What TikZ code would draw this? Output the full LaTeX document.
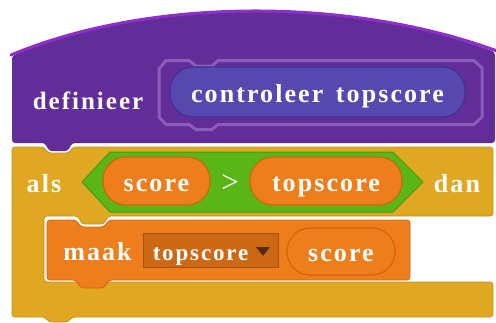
\documentclass[tikz,border=0pt]{standalone}
\usepackage{fontspec}
\newfontfamily\blockfont[LetterSpace=8]{Liberation Serif}
\definecolor{hatpurple}{HTML}{632D99}
\definecolor{hatrim}{HTML}{8D2FCC}
\definecolor{slotline}{HTML}{8B5DBA}
\definecolor{custblue}{HTML}{5748B0}
\definecolor{custedge}{HTML}{40338F}
\definecolor{ctrlyellow}{HTML}{E0A822}
\definecolor{ctrledge}{HTML}{C8901A}
\definecolor{opgreen}{HTML}{5AB517}
\definecolor{opedge}{HTML}{469A0E}
\definecolor{varorange}{HTML}{EE7D1C}
\definecolor{varedge}{HTML}{D0650E}
\definecolor{dropfill}{HTML}{CD6815}
\definecolor{droparrow}{HTML}{5A2A0A}

\begin{document}
\begin{tikzpicture}[x=1pt, y=-1pt,
  txt/.style={text=white, font=\blockfont\bfseries\fontsize{26}{30}\selectfont, inner sep=0pt},
  pill/.style={txt, rectangle, rounded corners=23pt, line width=1.2pt,
               text height=21pt, text depth=1pt},
  var/.style={pill, fill=varorange, draw=varedge},
  custom/.style={pill, fill=custblue, draw=custedge}
]
  \useasboundingbox (0,0) rectangle (496,322);

  % if-block
  \filldraw[fill=ctrlyellow, draw=ctrledge, line width=0.8pt, rounded corners=3pt]
    (12,147) -- (44,147) -- (48,153) -- (69,153) -- (73,147) -- (493,147)
    -- (493,216) -- (108,216) -- (104,224) -- (82,224) -- (78,216) -- (44,216)
    -- (44,282) -- (493,282) -- (493,317) -- (72,317) -- (68,322) -- (49,322)
    -- (45,317) -- (12,317) -- cycle;

  % define hat
  \fill[hatpurple, rounded corners=3pt] (12,56) .. controls (150,-2) and (350,-2) .. (495,52)
    -- (495,143) -- (72,143) -- (68,151) -- (49,151) -- (45,143) -- (12,143) -- cycle;
  \draw[hatrim, line width=3pt, line cap=round] (11,55) .. controls (150,-3) and (350,-3) .. (497,51);
  \draw[slotline, line width=3pt]
    (159,69) -- (166,60.5) -- (189,60.5) -- (196,66) -- (212,66) -- (218,60.5) -- (474,60.5)
    -- (482,68) -- (482,117) -- (474,124.5) -- (218,124.5) -- (212,129.5) -- (196,129.5)
    -- (189,124.5) -- (166,124.5) -- (159,117) -- cycle;
  \node[custom, minimum width=295pt, minimum height=50pt] (proc) at (317.5,92) {controleer\hspace{4pt} topscore};
  \node[txt, anchor=base, font=\blockfont\bfseries\fontsize{25}{30}\selectfont] (def) at (88,109) {definieer};

  % condition
  \filldraw[fill=opgreen, draw=opedge, line width=1pt]
    (82,182) -- (110,152) -- (393,152) -- (423,182) -- (393,212) -- (110,212) -- cycle;
  \node[txt, anchor=base] (als) at (44,192) {als};
  \node[var, minimum width=107pt, minimum height=48pt] (lhs) at (156.5,181) {score};
  \node[txt, anchor=base, font=\blockfont\fontsize{31}{34}\selectfont] (gt) at (230,192) {>};
  \node[var, minimum width=152pt, minimum height=48pt] (rhs) at (326,181) {topscore};
  \node[txt, anchor=base] (dan) at (457,192) {dan};

  % set block
  \filldraw[fill=varorange, draw=varedge, line width=0.8pt, rounded corners=3pt]
    (47,220) -- (76,220) -- (81,227) -- (104,227) -- (109,220) -- (410,220)
    -- (410,280) -- (109,280) -- (104,288) -- (81,288) -- (76,280) -- (47,280) -- cycle;
  \node[txt, anchor=base] (maak) at (97.5,260) {maak};
  \filldraw[fill=dropfill, draw=varedge!80!black, line width=0.8pt] (143,233) rectangle (278,267);
  \node[txt, anchor=base, font=\blockfont\bfseries\fontsize{23}{27}\selectfont] (varname) at (200.5,260) {topscore};
  \fill[droparrow] (256,247) -- (270,247) -- (263,256) -- cycle;
  \node[var, minimum width=108pt, minimum height=47pt] (val) at (341,251.5) {score};
\end{tikzpicture}
\end{document}
